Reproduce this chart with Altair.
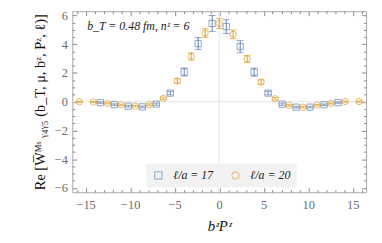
import altair as alt
import pandas as pd

# ---- data ----
blue_x = [-13.35, -11.78, -10.21, -8.64, -7.07, -5.50, -3.93, -2.36, -0.79,
          0.79, 2.36, 3.93, 5.50, 7.07, 8.64, 10.21, 11.78, 13.35]
blue_y = [-0.06, -0.20, -0.31, -0.36, -0.17, 0.60, 2.07, 4.05, 5.45,
          5.23, 3.83, 2.06, 0.60, -0.17, -0.38, -0.38, -0.21, -0.06]
blue_err = [0.05, 0.05, 0.06, 0.06, 0.08, 0.12, 0.28, 0.42, 0.55,
            0.48, 0.42, 0.28, 0.12, 0.08, 0.06, 0.06, 0.05, 0.05]

orange_x = [-15.71, -14.14, -12.57, -11.00, -9.42, -7.85, -6.28, -4.71, -3.14, -1.57, 0.00,
            1.57, 3.14, 4.71, 6.28, 7.85, 9.42, 11.00, 12.57, 14.14, 15.71]
orange_y = [0.00, -0.02, -0.11, -0.22, -0.31, -0.21, 0.24, 1.45, 3.15, 4.78, 5.45,
            4.69, 2.98, 1.37, 0.21, -0.25, -0.38, -0.24, -0.12, 0.01, 0.01]
orange_err = [0.04, 0.04, 0.04, 0.05, 0.05, 0.06, 0.08, 0.15, 0.25, 0.30, 0.35,
              0.30, 0.25, 0.15, 0.08, 0.06, 0.05, 0.05, 0.04, 0.04, 0.04]

series_names = ["ℓ/a = 17", "ℓ/a = 20"]

x_major = [-15, -10, -5, 0, 5, 10, 15]
x_minor = [-16, -14, -13, -12, -11, -9, -8, -7, -6, -4, -3, -2, -1,
           1, 2, 3, 4, 6, 7, 8, 9, 11, 12, 13, 14, 16]
y_major = [-6, -4, -2, 0, 2, 4, 6]
y_minor = [-5.5, -5, -4.5, -3.5, -3, -2.5, -1.5, -1, -0.5,
           0.5, 1, 1.5, 2.5, 3, 3.5, 4.5, 5, 5.5]

annotation = "b_T = 0.48 fm,  nᶻ = 6"
x_title = "bᶻPᶻ"
y_title = "Re [W̅ᴹˢ ᵧ₄ᵧ₅ (b_T, μ, bᶻ, Pᶻ, ℓ)]"

BLUE = "#5E81B5"
ORANGE = "#E19C24"
W, H = 297, 183
FONT = "Liberation Serif, DejaVu Serif, serif"

df_b = pd.DataFrame({"x": blue_x, "y": blue_y, "err": blue_err, "s": series_names[0]})
df_o = pd.DataFrame({"x": orange_x, "y": orange_y, "err": orange_err, "s": series_names[1]})
for d in (df_b, df_o):
    d["lo"] = d["y"] - d["err"]
    d["hi"] = d["y"] + d["err"]
df_all = pd.concat([df_b, df_o], ignore_index=True)

xs = alt.Scale(domain=[-16.5, 16.5], nice=False, zero=False)
ys = alt.Scale(domain=[-6.3, 6.3], nice=False, zero=False)

TICK = "#888888"


def axis_layer(xaxis, yaxis):
    return alt.Chart(df_b).mark_point(opacity=0).encode(
        x=alt.X("x:Q", scale=xs, axis=xaxis),
        y=alt.Y("y:Q", scale=ys, axis=yaxis),
    )


lab_common = dict(domain=False, ticks=False, grid=False, labelFont=FONT,
                  labelFontSize=12.5, labelColor="#6a6a6a", titleFont=FONT,
                  titleFontWeight="normal", titleColor="#111111")

labels = axis_layer(
    alt.Axis(orient="bottom", values=x_major, title=x_title, labelPadding=6,
             titlePadding=8, titleFontSize=15, titleFontStyle="italic", **lab_common),
    alt.Axis(orient="left", values=y_major, title=y_title,
             labelPadding=5, titlePadding=7, titleFontSize=14.5, **lab_common),
)


def tick_axis(orient, offset, values, size):
    return alt.Axis(orient=orient, offset=offset, values=values, labels=False,
                    domain=False, grid=False, ticks=True, tickSize=size,
                    tickColor=TICK, title=None)


ticks_layers = [
    axis_layer(tick_axis("top", -H, x_major, 4.5), tick_axis("right", -W, y_major, 4.5)),
    axis_layer(tick_axis("top", -H, x_minor, 2.5), tick_axis("right", -W, y_minor, 2.5)),
    axis_layer(tick_axis("bottom", -H, x_major, 4.5), tick_axis("left", -W, y_major, 4.5)),
    axis_layer(tick_axis("bottom", -H, x_minor, 2.5), tick_axis("left", -W, y_minor, 2.5)),
]

vline = alt.Chart(pd.DataFrame({"v": [0]})).mark_rule(color="#e4e4e4", strokeWidth=1).encode(
    x=alt.X("v:Q", scale=xs, axis=None))
hline = alt.Chart(pd.DataFrame({"v": [0]})).mark_rule(color="#e4e4e4", strokeWidth=1).encode(
    y=alt.Y("v:Q", scale=ys, axis=None))


def err_layers(df, color):
    base = alt.Chart(df)
    rule = base.mark_rule(color=color, strokeWidth=1).encode(
        x=alt.X("x:Q", scale=xs, axis=None),
        y=alt.Y("lo:Q", scale=ys, axis=None), y2="hi:Q")
    cap_lo = base.mark_tick(orient="horizontal", color=color, size=7, thickness=1).encode(
        x=alt.X("x:Q", scale=xs, axis=None), y=alt.Y("lo:Q", scale=ys, axis=None))
    cap_hi = base.mark_tick(orient="horizontal", color=color, size=7, thickness=1).encode(
        x=alt.X("x:Q", scale=xs, axis=None), y=alt.Y("hi:Q", scale=ys, axis=None))
    return [rule, cap_lo, cap_hi]


points = alt.Chart(df_all).mark_point(filled=False, size=40, strokeWidth=1).encode(
    x=alt.X("x:Q", scale=xs, axis=None),
    y=alt.Y("y:Q", scale=ys, axis=None),
    color=alt.Color("s:N", scale=alt.Scale(domain=series_names, range=[BLUE, ORANGE]),
                    legend=alt.Legend(title=None, orient="none", legendX=75, legendY=154,
                                      direction="horizontal", fillColor="#f2f2f2",
                                      padding=6, columnPadding=16, symbolSize=55,
                                      symbolStrokeWidth=1, labelFont=FONT,
                                      labelFontSize=12, labelFontStyle="italic",
                                      labelColor="#222222", labelOffset=9)),
    shape=alt.Shape("s:N", scale=alt.Scale(domain=series_names, range=["square", "circle"]),
                    legend=None),
)

text = alt.Chart(pd.DataFrame({"t": [annotation]})).mark_text(
    align="left", baseline="middle", font=FONT, fontSize=12, fontStyle="italic",
    color="#222222").encode(x=alt.value(15), y=alt.value(15), text="t:N")

chart = alt.layer(
    vline, hline, *ticks_layers, labels,
    *err_layers(df_b, BLUE), *err_layers(df_o, ORANGE),
    points, text,
).resolve_axis(x="independent", y="independent").properties(
    width=W, height=H,
    padding={"left": 65, "top": 2, "right": 8, "bottom": 42},
    autosize=alt.AutoSizeParams(type="none"),
).configure_view(stroke="#aaaaaa", strokeWidth=1)

chart.save("out.html", embed_options={"renderer": "svg", "actions": False})
